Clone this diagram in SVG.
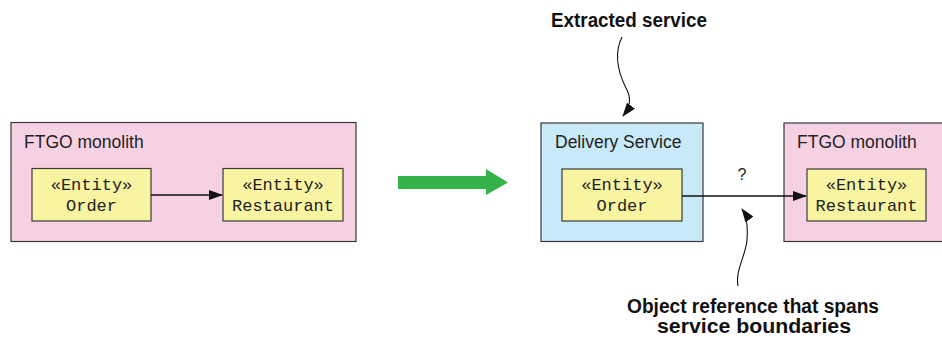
<svg xmlns="http://www.w3.org/2000/svg" width="942" height="341" viewBox="0 0 942 341">
<style>
.pink{fill:#f6d1e3;stroke:#3a3a3a;stroke-width:1.2}
.blue{fill:#c7e9f8;stroke:#3a3a3a;stroke-width:1.2}
.ent{fill:#f8f4a2;stroke:#3a3a3a;stroke-width:1.2}
.title{font-family:"Liberation Sans",Arial,sans-serif;font-size:17.5px;fill:#222}
.mono{font-family:"Liberation Mono","Courier New",monospace;font-size:17px;fill:#222;text-anchor:middle}
.bold{font-family:"Liberation Sans",Arial,sans-serif;font-weight:bold;font-size:20px;fill:#111;text-anchor:middle}
.conn{fill:none;stroke:#111;stroke-width:1.3}
.wave{fill:none;stroke:#111;stroke-width:1.1}
</style>
<defs>
<marker id="ah" markerWidth="14" markerHeight="10" refX="13" refY="5" orient="auto" markerUnits="userSpaceOnUse">
<path d="M0,0 L14,5 L0,10 Z" fill="#111"/>
</marker>
</defs>
<g id="monolith-left">
<rect class="pink" x="11" y="122.5" width="345" height="119"/>
<text class="title" x="24" y="148">FTGO monolith</text>
</g>
<g id="order-left">
<rect class="ent" x="32" y="168.5" width="119" height="52.5"/>
<text class="mono" x="91.5" y="190">«Entity»</text>
<text class="mono" x="91.5" y="211">Order</text>
</g>
<g id="restaurant-left">
<rect class="ent" x="223" y="168.5" width="120" height="52.5"/>
<text class="mono" x="283" y="190">«Entity»</text>
<text class="mono" x="283" y="211">Restaurant</text>
</g>
<g id="green-arrow">
<path d="M398,176 L486,176 L486,169 L508,182.5 L486,195 L486,189 L398,189 Z" fill="#35b34b"/>
</g>
<g id="delivery-service">
<rect class="blue" x="541" y="123" width="162" height="118.5"/>
<text class="title" x="555" y="148">Delivery Service</text>
</g>
<g id="order-right">
<rect class="ent" x="562" y="169" width="120" height="52"/>
<text class="mono" x="622" y="190">«Entity»</text>
<text class="mono" x="622" y="211">Order</text>
</g>
<g id="monolith-right">
<rect class="pink" x="784" y="123" width="160" height="118.5"/>
<text class="title" x="797" y="148">FTGO monolith</text>
</g>
<g id="restaurant-right">
<rect class="ent" x="807" y="169" width="119" height="52"/>
<text class="mono" x="866.5" y="190">«Entity»</text>
<text class="mono" x="866.5" y="211">Restaurant</text>
</g>
<g id="label-extracted">
<text class="bold" x="629" y="27" textLength="156" lengthAdjust="spacingAndGlyphs">Extracted service</text>
</g>
<g id="label-object-ref">
<text class="bold" x="753" y="313" textLength="252" lengthAdjust="spacingAndGlyphs">Object reference that spans</text>
<text class="bold" x="754" y="333" textLength="194" lengthAdjust="spacingAndGlyphs">service boundaries</text>
</g>
<g id="connectors">
<path class="conn" d="M151,195 L222,195" marker-end="url(#ah)"/>
<path class="conn" d="M682,196 L806,196" marker-end="url(#ah)"/>
<text x="742" y="180" font-family="Liberation Sans, Arial, sans-serif" font-size="16" fill="#222" text-anchor="middle">?</text>
<path class="wave" d="M622,37 C613,55 619,74 626,88 C632,99 630,107 623,116" marker-end="url(#ah)"/>
<path class="wave" d="M738,286 C735,270 746,255 747,240 C748,226 747,216 742,209" marker-end="url(#ah)"/>
</g>
</svg>
